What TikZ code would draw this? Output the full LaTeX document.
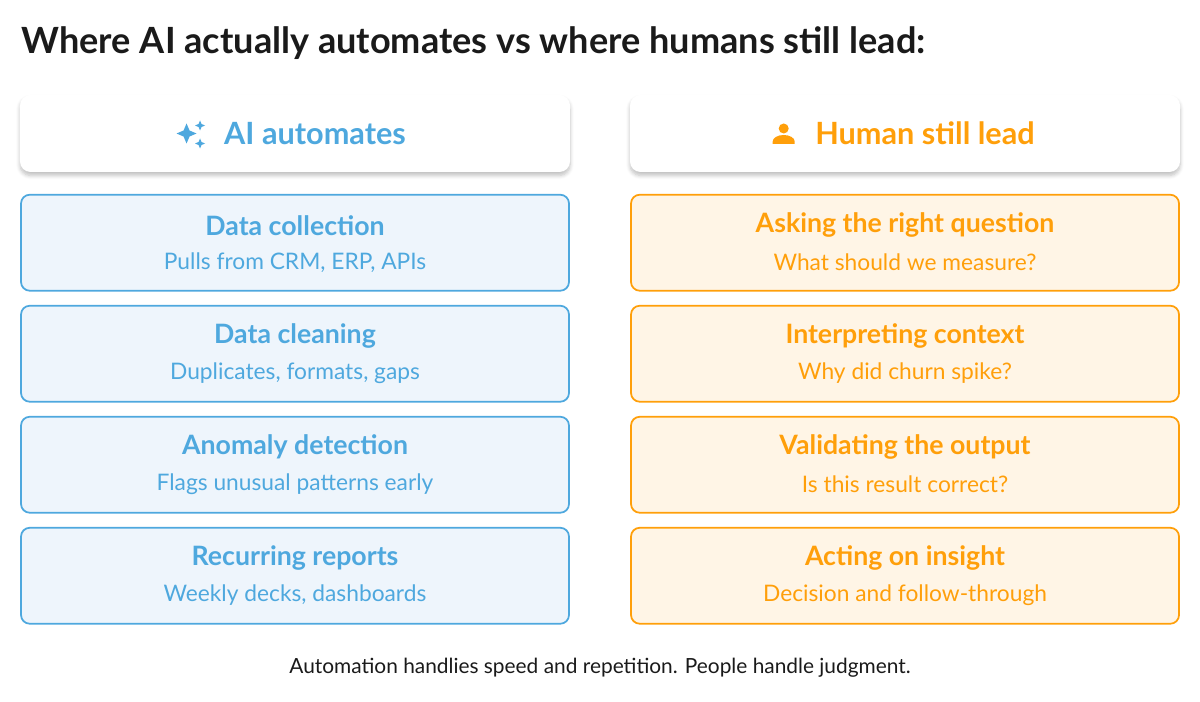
\documentclass[tikz,border=0pt]{standalone}
\usepackage{fontspec}
\setmainfont[Scale=1.07]{Lato}
\usetikzlibrary{positioning,shadows.blur}
\definecolor{aiblue}{HTML}{4EA8DE}
\definecolor{aifill}{HTML}{EEF5FC}
\definecolor{huorange}{HTML}{FF9F0A}
\definecolor{hufill}{HTML}{FFF5E6}
\definecolor{ink}{HTML}{1A1A1A}

\begin{document}
\begin{tikzpicture}[
  head/.style={draw=none,fill=white,rounded corners=6pt,minimum width=11cm,minimum height=1.54cm,
    blur shadow={shadow blur steps=6,shadow xshift=0pt,shadow yshift=-2pt,shadow opacity=25,shadow blur extra rounding=2pt}},
  aibox/.style={draw=aiblue,fill=aifill,line width=1pt,rounded corners=5pt,minimum width=10.96cm,minimum height=1.92cm},
  hubox/.style={draw=huorange,fill=hufill,line width=1pt,rounded corners=5pt,minimum width=10.96cm,minimum height=1.92cm},
  ttl/.style={font=\fontsize{14.2}{17}\selectfont\bfseries},
  sub/.style={font=\fontsize{12.1}{14}\selectfont},
  node distance=0.265cm]

  \useasboundingbox (0,0) rectangle (24,-14.04);

  % title
  \node[anchor=west,text=ink,font=\fontsize{19.2}{22}\selectfont\bfseries] (title) at (0.3,-0.86)
    {Where AI actually automates vs where humans still lead:};

  % headers
  \node[head] (hAI) at (5.9,-2.67) {};
  \node[head] (hHU) at (18.1,-2.67) {};
  \node[text=aiblue,font=\fontsize{16.3}{19}\selectfont\bfseries] (tAI) at (6.3,-2.67) {AI automates};
  \node[text=huorange,font=\fontsize{16.3}{19}\selectfont\bfseries] (tHU) at (18.5,-2.67) {Human still lead};

  % sparkles icon
  \begin{scope}[fill=aiblue,shift={([xshift=-0.62cm]tAI.west)}]
    \fill (0,0.2) -- (0.06,0.06) -- (0.2,0) -- (0.06,-0.06) -- (0,-0.2) -- (-0.06,-0.06) -- (-0.2,0) -- (-0.06,0.06) -- cycle;
    \fill (0.27,0.26) -- ++(0.03,-0.07) -- ++(0.07,-0.03) -- ++(-0.07,-0.03) -- ++(-0.03,-0.07) -- ++(-0.03,0.07) -- ++(-0.07,0.03) -- ++(0.07,0.03) -- cycle;
    \fill (0.27,-0.1) -- ++(0.03,-0.07) -- ++(0.07,-0.03) -- ++(-0.07,-0.03) -- ++(-0.03,-0.07) -- ++(-0.03,0.07) -- ++(-0.07,0.03) -- ++(0.07,0.03) -- cycle;
  \end{scope}

  % person icon
  \begin{scope}[fill=huorange,shift={([xshift=-0.5cm]tHU.west)}]
    \fill (0,0.1) circle (0.1);
    \fill (-0.22,-0.21) -- (-0.22,-0.16) arc (180:0:0.22 and 0.13) -- (0.22,-0.21) -- cycle;
  \end{scope}

  % AI column
  \node[aibox,below=0.43cm of hAI] (ai1) {};
  \node[aibox,below=of ai1] (ai2) {};
  \node[aibox,below=of ai2] (ai3) {};
  \node[aibox,below=of ai3] (ai4) {};

  \node[ttl,text=aiblue] at ([yshift=0.35cm]ai1.center) {Data collection};
  \node[sub,text=aiblue] at ([yshift=-0.39cm]ai1.center) {Pulls from CRM, ERP, APIs};
  \node[ttl,text=aiblue] at ([yshift=0.35cm]ai2.center) {Data cleaning};
  \node[sub,text=aiblue] at ([yshift=-0.39cm]ai2.center) {Duplicates, formats, gaps};
  \node[ttl,text=aiblue] at ([yshift=0.35cm]ai3.center) {Anomaly detection};
  \node[sub,text=aiblue] at ([yshift=-0.39cm]ai3.center) {Flags unusual patterns early};
  \node[ttl,text=aiblue] at ([yshift=0.35cm]ai4.center) {Recurring reports};
  \node[sub,text=aiblue] at ([yshift=-0.39cm]ai4.center) {Weekly decks, dashboards};

  % human column
  \node[hubox,below=0.43cm of hHU] (hu1) {};
  \node[hubox,below=of hu1] (hu2) {};
  \node[hubox,below=of hu2] (hu3) {};
  \node[hubox,below=of hu3] (hu4) {};

  \node[ttl,text=huorange] at ([yshift=0.35cm]hu1.center) {Asking the right question};
  \node[sub,text=huorange] at ([yshift=-0.39cm]hu1.center) {What should we measure?};
  \node[ttl,text=huorange] at ([yshift=0.35cm]hu2.center) {Interpreting context};
  \node[sub,text=huorange] at ([yshift=-0.39cm]hu2.center) {Why did churn spike?};
  \node[ttl,text=huorange] at ([yshift=0.35cm]hu3.center) {Validating the output};
  \node[sub,text=huorange] at ([yshift=-0.39cm]hu3.center) {Is this result correct?};
  \node[ttl,text=huorange] at ([yshift=0.35cm]hu4.center) {Acting on insight};
  \node[sub,text=huorange] at ([yshift=-0.39cm]hu4.center) {Decision and follow-through};

  % footer
  \node[text=ink,font=\fontsize{11.1}{13}\selectfont] (foot) at (12,-13.36)
    {Automation handlies speed and repetition. People handle judgment.};
\end{tikzpicture}
\end{document}
